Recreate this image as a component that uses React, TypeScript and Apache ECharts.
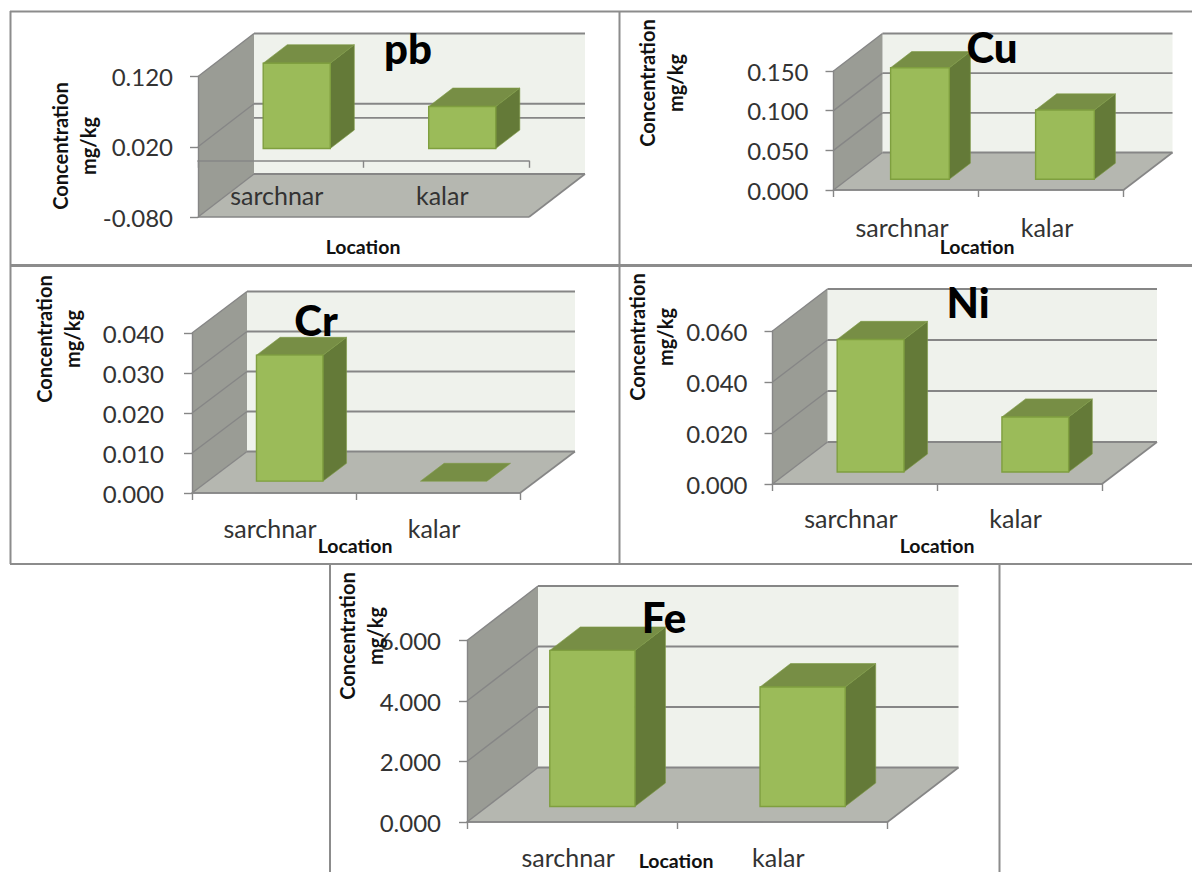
import React, { useEffect, useRef } from "react";
import * as echarts from "echarts";

const categories = ["sarchnar", "kalar"];
const pbValues = [0.1215, 0.0598];
const cuValues = [0.1407, 0.0874];
const crValues = [0.0315, 0];
const niValues = [0.052, 0.0216];
const feValues = [5.16, 3.95];
const pbTicks = [-0.08, 0.02, 0.12];
const cuTicks = [0, 0.05, 0.1, 0.15];
const crTicks = [0, 0.01, 0.02, 0.03, 0.04];
const niTicks = [0, 0.02, 0.04, 0.06];
const feTicks = [0, 2, 4, 6];

const panels = [
  { name: "pb", values: pbValues, ticks: pbTicks, extraBackLines: [0], x0: 198, x1: 529, yTop: 76.5, yBot: 217, dx: 56, dy: -43, labelMargin: -35, yMargin: 25, titleX: 408, titleY: 48, locX: 363, locY: 246, concX: 73.5, concY: 146 },
  { name: "Cu", values: cuValues, ticks: cuTicks, extraBackLines: [], x0: 833.5, x1: 1123.5, yTop: 71, yBot: 190, dx: 49, dy: -37.5, labelMargin: 24, yMargin: 25, titleX: 992, titleY: 47, locX: 977, locY: 246, concX: 661, concY: 83 },
  { name: "Cr", values: crValues, ticks: crTicks, extraBackLines: [], x0: 192, x1: 520, yTop: 333, yBot: 493, dx: 55, dy: -41.5, labelMargin: 22, yMargin: 28, titleX: 316, titleY: 320, locX: 355, locY: 545, concX: 58, concY: 339 },
  { name: "Ni", values: niValues, ticks: niTicks, extraBackLines: [], x0: 772.5, x1: 1102, yTop: 331, yBot: 484, dx: 55, dy: -42, labelMargin: 21, yMargin: 25, titleX: 968, titleY: 302, locX: 937, locY: 545, concX: 651, concY: 337 },
  { name: "Fe", values: feValues, ticks: feTicks, extraBackLines: [], x0: 467, x1: 887.5, yTop: 640.5, yBot: 822, dx: 71, dy: -54.5, labelMargin: 22, yMargin: 26, titleX: 664, titleY: 617, locX: 676, locY: 860, concX: 360.5, concY: 636 },
];

const FONT = "Lato";
const AXIS_GREY = "#868686";
const FRAME_GREY = "#8c8c8c";
const BAR_WIDTH = 0.405;
const BAR_START = 0.285;
const BAR_DEPTH = 0.43;

function scene(p: any) {
  return (params: any, api: any) => {
    const cs = params.coordSys;
    const left = cs.x;
    const right = cs.x + cs.width;
    const yOf = (v: number) => api.coord([0, v])[1];
    const lo = yOf(p.ticks[0]);
    const hi = yOf(p.ticks[p.ticks.length - 1]);
    const { dx, dy } = p;
    const line = (x1: number, y1: number, x2: number, y2: number, w = 1.4) => ({
      type: "line",
      shape: { x1, y1, x2, y2 },
      style: { stroke: AXIS_GREY, lineWidth: w },
    });
    const children: any[] = [
      { type: "rect", shape: { x: left + dx, y: hi + dy, width: cs.width, height: lo - hi }, style: { fill: "#eff2ec" } },
      {
        type: "polygon",
        shape: { points: [[left, lo], [left, hi], [left + dx, hi + dy], [left + dx, lo + dy]] },
        style: { fill: "#9a9c95" },
      },
      {
        type: "polygon",
        shape: { points: [[left, lo], [right, lo], [right + dx, lo + dy], [left + dx, lo + dy]] },
        style: { fill: "#b5b7b0" },
      },
    ];
    p.ticks.forEach((t: number) => {
      const y = yOf(t);
      children.push(line(left + dx, y + dy, right + dx, y + dy, 1.8));
      children.push(line(left, y, left + dx, y + dy));
    });
    p.extraBackLines.forEach((t: number) => {
      const y = yOf(t);
      children.push(line(left + dx, y + dy, right + dx, y + dy, 1.8));
    });
    children.push(line(left, lo, right, lo, 1.6));
    children.push(line(right, lo, right + dx, lo + dy, 1.6));
    return { type: "group", children };
  };
}

function bars(p: any) {
  return (_params: any, api: any) => {
    const cat = api.value(0);
    const val = api.value(1);
    const band = api.size([1, 0])[0];
    const center = api.coord([cat, 0])[0];
    const w = band * BAR_WIDTH;
    const ox = p.dx * BAR_START;
    const oy = p.dy * BAR_START;
    const dx = p.dx * BAR_DEPTH;
    const dy = p.dy * BAR_DEPTH;
    const l = center - w / 2 + ox;
    const r = center + w / 2 + ox;
    const b = api.coord([cat, 0])[1] + oy;
    const t = api.coord([cat, val])[1] + oy;
    const children: any[] = [];
    if (b - t > 1) {
      children.push({
        type: "polygon",
        shape: { points: [[r, b], [r, t], [r + dx, t + dy], [r + dx, b + dy]] },
        style: { fill: "#647a38", stroke: "#7d9a45", lineWidth: 0.6 },
      });
    }
    children.push({
      type: "polygon",
      shape: { points: [[l, t], [r, t], [r + dx, t + dy], [l + dx, t + dy]] },
      style: { fill: "#778e45", stroke: "#7d9a45", lineWidth: 0.6 },
    });
    if (b - t > 1) {
      children.push({
        type: "rect",
        shape: { x: l, y: t, width: w, height: b - t },
        style: { fill: "#9bbb59", stroke: "#7f9f3f", lineWidth: 1.4 },
      });
    }
    return { type: "group", children };
  };
}

function frameLine(x1: number, y1: number, x2: number, y2: number, w: number) {
  return { type: "line", silent: true, shape: { x1, y1, x2, y2 }, style: { stroke: FRAME_GREY, lineWidth: w } };
}

function buildOption() {
  const W = 1192;
  const H = 872;
  return {
    animation: false,
    backgroundColor: "#ffffff",
    title: panels.map((p) => ({
      text: p.name,
      left: p.titleX,
      top: p.titleY,
      padding: 0,
      textAlign: "center",
      textVerticalAlign: "middle",
      z: 8,
      textStyle: { fontFamily: FONT, fontWeight: 900, fontSize: 42, color: "#000000" },
    })),
    grid: panels.map((p) => ({
      left: p.x0,
      top: p.yTop,
      width: p.x1 - p.x0,
      height: p.yBot - p.yTop,
      containLabel: false,
    })),
    xAxis: panels.map((p, i) => ({
      type: "category",
      gridIndex: i,
      data: categories,
      z: 3,
      axisLine: { show: true, onZero: true, lineStyle: { color: AXIS_GREY, width: 1.6 } },
      axisTick: { show: true, length: 7, lineStyle: { color: AXIS_GREY, width: 1.4 } },
      axisLabel: {
        interval: 0,
        margin: p.labelMargin,
        fontFamily: FONT,
        fontSize: 25,
        color: "#333333",
        padding: [0, 8, 0, 0],
      },
    })),
    yAxis: panels.map((p, i) => ({
      type: "value",
      gridIndex: i,
      min: p.ticks[0],
      max: p.ticks[p.ticks.length - 1],
      z: 3,
      splitLine: { show: false },
      axisLine: { show: true, lineStyle: { color: AXIS_GREY, width: 1.4 } },
      axisTick: { show: true, length: 8, customValues: p.ticks, lineStyle: { color: AXIS_GREY, width: 1.4 } },
      axisLabel: {
        customValues: p.ticks,
        margin: p.yMargin,
        fontFamily: FONT,
        fontSize: 24,
        color: "#333333",
        formatter: (v: number) => v.toFixed(3),
      },
    })),
    series: panels.flatMap((p, i) => [
      {
        type: "custom",
        name: p.name + " walls",
        xAxisIndex: i,
        yAxisIndex: i,
        z: 1,
        silent: true,
        data: [[0, 0]],
        encode: { x: 0, y: 1 },
        renderItem: scene(p),
      },
      {
        type: "custom",
        name: p.name,
        xAxisIndex: i,
        yAxisIndex: i,
        z: 5,
        data: categories.map((_c, k) => [k, p.values[k]]),
        encode: { x: 0, y: 1 },
        renderItem: bars(p),
      },
    ]),
    graphic: {
      elements: [
        frameLine(10, 11.5, W, 11.5, 2),
        frameLine(10, 265.5, W, 265.5, 3),
        frameLine(10, 564, W, 564, 2),
        frameLine(10.5, 11, 10.5, 564, 2),
        frameLine(619.5, 11, 619.5, 564, 2),
        frameLine(330, 564, 330, H, 2),
        frameLine(999.5, 564, 999.5, H, 2),
        ...panels.map((p) => ({
          type: "text",
          x: p.locX,
          y: p.locY,
          z: 9,
          style: {
            text: "Location",
            fontFamily: FONT,
            fontWeight: "bold",
            fontSize: 19.5,
            fill: "#111111",
            align: "center",
            verticalAlign: "middle",
          },
        })),
        ...panels.map((p) => ({
          type: "text",
          x: p.concX,
          y: p.concY,
          rotation: Math.PI / 2,
          z: 9,
          style: {
            text: "Concentration\nmg/kg",
            fontFamily: FONT,
            fontWeight: "bold",
            fontSize: 20,
            lineHeight: 28,
            fill: "#111111",
            align: "center",
            verticalAlign: "middle",
          },
        })),
      ],
    },
  };
}

export default function App() {
  const ref = useRef<HTMLDivElement>(null);
  useEffect(() => {
    const chart = echarts.init(ref.current as HTMLDivElement, undefined, { renderer: "svg" });
    chart.setOption(buildOption() as any);
    return () => chart.dispose();
  }, []);
  return <div ref={ref} style={{ position: "fixed", left: 0, top: 0, width: 1192, height: 872 }} />;
}
